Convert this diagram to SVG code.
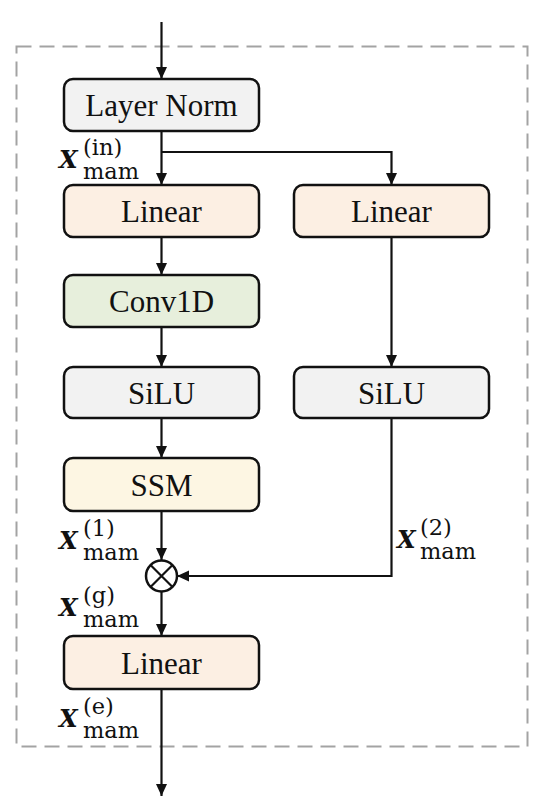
<svg xmlns="http://www.w3.org/2000/svg" width="550" height="805" viewBox="0 0 550 805">
<style>
.box{stroke:#111;stroke-width:2.5}
.lbl{font-family:"Liberation Serif","Times New Roman",serif;font-size:31px;fill:#111;text-anchor:middle}
.ln{fill:none;stroke:#111;stroke-width:2.2}
.mx{font-family:"DejaVu Serif",serif;font-weight:bold;font-style:italic;font-size:24px;fill:#111}
.ms{font-family:"DejaVu Serif",serif;font-size:22.5px;fill:#111}
.gray{fill:#f2f2f2}.peach{fill:#fcefe3}.green{fill:#e7efdc}.yellow{fill:#fdf6e3}
</style>
<defs>
<marker id="ah" markerUnits="userSpaceOnUse" markerWidth="13" markerHeight="12" refX="12" refY="6" orient="auto">
<path d="M0,0.5 L12,6 L0,11.5 z" fill="#111"/>
</marker>
</defs>
<rect x="16.5" y="46.5" width="511" height="700" fill="none" stroke="#a3a3a3" stroke-width="2" stroke-dasharray="15,8"/>
<g id="connectors">
<path class="ln" d="M161.5,22 V79" marker-end="url(#ah)"/>
<path class="ln" d="M161.5,131 V185" marker-end="url(#ah)"/>
<path class="ln" d="M161.5,152 H391.5 V185" marker-end="url(#ah)"/>
<path class="ln" d="M161.5,237 V275" marker-end="url(#ah)"/>
<path class="ln" d="M161.5,327 V367" marker-end="url(#ah)"/>
<path class="ln" d="M161.5,418 V458" marker-end="url(#ah)"/>
<path class="ln" d="M161.5,511 V560" marker-end="url(#ah)"/>
<path class="ln" d="M391.5,237 V367" marker-end="url(#ah)"/>
<path class="ln" d="M391.5,418 V576 H177" marker-end="url(#ah)"/>
<path class="ln" d="M161.5,592 V636" marker-end="url(#ah)"/>
<path class="ln" d="M161.5,689 V796" marker-end="url(#ah)"/>
</g>
<g id="layernorm"><rect class="box gray" x="64" y="79" width="195" height="52" rx="9"/><text class="lbl" x="161.5" y="116">Layer Norm</text></g>
<g id="linear1"><rect class="box peach" x="64" y="185" width="195" height="52" rx="9"/><text class="lbl" x="161.5" y="222">Linear</text></g>
<g id="linear2"><rect class="box peach" x="294" y="185" width="195" height="52" rx="9"/><text class="lbl" x="391.5" y="222">Linear</text></g>
<g id="conv1d"><rect class="box green" x="64" y="275" width="195" height="52" rx="9"/><text class="lbl" x="161.5" y="312">Conv1D</text></g>
<g id="silu1"><rect class="box gray" x="64" y="367" width="195" height="51" rx="9"/><text class="lbl" x="161.5" y="404">SiLU</text></g>
<g id="silu2"><rect class="box gray" x="294" y="367" width="195" height="51" rx="9"/><text class="lbl" x="391.5" y="404">SiLU</text></g>
<g id="ssm"><rect class="box yellow" x="64" y="458" width="195" height="53" rx="9"/><text class="lbl" x="161.5" y="496">SSM</text></g>
<g id="mult"><circle cx="161.5" cy="576" r="15.5" fill="#fff" stroke="#111" stroke-width="2.5"/><path d="M150.5,565 L172.5,587 M172.5,565 L150.5,587" stroke="#111" stroke-width="2.2"/></g>
<g id="linear3"><rect class="box peach" x="64" y="636" width="195" height="53" rx="9"/><text class="lbl" x="161.5" y="674">Linear</text></g>
<g id="label-in"><text class="mx" x="59" y="168">X</text><text class="ms" x="83" y="155">(in)</text><text class="ms" x="83" y="179">mam</text></g>
<g id="label-1"><text class="mx" x="59" y="549">X</text><text class="ms" x="83" y="536">(1)</text><text class="ms" x="83" y="560">mam</text></g>
<g id="label-2"><text class="mx" x="397" y="548">X</text><text class="ms" x="420" y="535">(2)</text><text class="ms" x="420" y="559">mam</text></g>
<g id="label-g"><text class="mx" x="59" y="616">X</text><text class="ms" x="83" y="603">(g)</text><text class="ms" x="83" y="627">mam</text></g>
<g id="label-e"><text class="mx" x="59" y="727">X</text><text class="ms" x="83" y="714">(e)</text><text class="ms" x="83" y="738">mam</text></g>
</svg>
